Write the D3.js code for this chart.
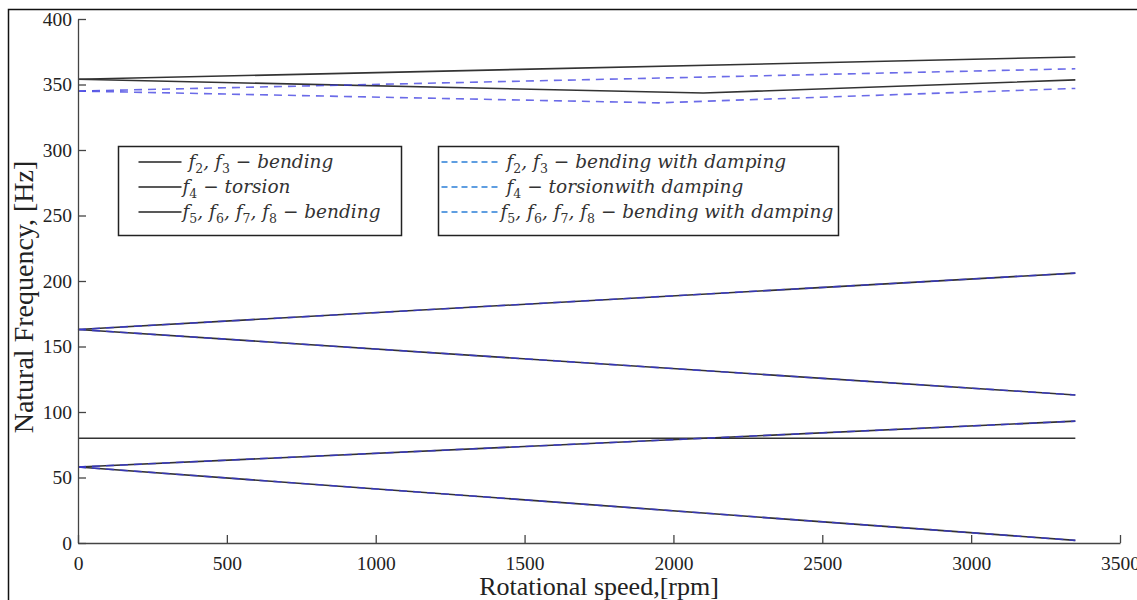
<!DOCTYPE html>
<meta charset="utf-8">
<style>
  body { margin: 0; background: #fff; }
  text { font-family: "Liberation Serif", serif; fill: #222; }
  .tick text { font-family: "Liberation Serif", "Times New Roman", serif !important; }
  .legend text { font-family: "DejaVu Serif", serif; font-style: italic; font-size: 18.5px; fill: #333; }
</style>
<svg width="1137" height="600"></svg>
<script src="https://cdn.jsdelivr.net/npm/d3@7"></script>
<script>
  // speed points (rpm) and frequencies (Hz)
  var rpmEnds = [0, 3350];
  var bendLowUp = [58, 93];
  var bendLowDown = [58, 2];
  var torsion = [80, 80];
  var bendMidUp = [163, 206];
  var bendMidDown = [163, 113];
  var bendTopUp = [354, 371];
  var rpmKinkSolid = [0, 2100, 3350];
  var bendTopDown = [354, 343.5, 353.5];
  var dampTopUp = [345, 362];
  var rpmKinkDamp = [0, 1950, 3350];
  var dampTopDown = [345, 336, 347];

  var xTicks = [0, 500, 1000, 1500, 2000, 2500, 3000, 3500];
  var yTicks = [0, 50, 100, 150, 200, 250, 300, 350, 400];

  var svg = d3.select("svg");

  // outer frame
  svg.append("rect")
    .attr("x", 8.5).attr("y", 9.5)
    .attr("width", 1140).attr("height", 600)
    .attr("fill", "none").attr("stroke", "#111").attr("stroke-width", 1.5);

  var x = d3.scaleLinear().domain([0, 3500]).range([78, 1120]);
  var y = d3.scaleLinear().domain([0, 400]).range([543, 19]);

  var line = d3.line()
    .x(function(d) { return x(d[0]); })
    .y(function(d) { return y(d[1]); });

  function pts(xs, ys) {
    return xs.map(function(v, i) { return [v, ys[i]]; });
  }

  var solid = [
    pts(rpmEnds, bendLowUp), pts(rpmEnds, bendLowDown), pts(rpmEnds, torsion),
    pts(rpmEnds, bendMidUp), pts(rpmEnds, bendMidDown),
    pts(rpmEnds, bendTopUp), pts(rpmKinkSolid, bendTopDown)
  ];
  var dashed = [
    pts(rpmEnds, bendLowUp), pts(rpmEnds, bendLowDown),
    pts(rpmEnds, bendMidUp), pts(rpmEnds, bendMidDown),
    pts(rpmEnds, dampTopUp), pts(rpmKinkDamp, dampTopDown)
  ];

  svg.append("g").selectAll("path")
    .data(solid).enter().append("path")
    .attr("d", line)
    .attr("fill", "none").attr("stroke", "#333").attr("stroke-width", 1.6);

  svg.append("g").selectAll("path")
    .data(dashed).enter().append("path")
    .attr("d", line)
    .attr("fill", "none").attr("stroke", "#3a3ae0").attr("stroke-opacity", 0.75)
    .attr("stroke-width", 1.6).attr("stroke-dasharray", "8,6");

  // axes (ticks pointing inward)
  var fmt = d3.format("d");
  var xAxis = svg.append("g")
    .attr("transform", "translate(0,543)")
    .call(d3.axisBottom(x).tickValues(xTicks).tickFormat(fmt)
      .tickSizeInner(-8).tickSizeOuter(0).tickPadding(13));
  var yAxis = svg.append("g")
    .attr("transform", "translate(78,0)")
    .call(d3.axisLeft(y).tickValues(yTicks).tickFormat(fmt)
      .tickSizeInner(-8).tickSizeOuter(0).tickPadding(6));

  [xAxis, yAxis].forEach(function(a) {
    a.attr("font-family", "Liberation Serif").attr("font-size", 19.5);
    a.select(".domain").attr("stroke", "#444").attr("stroke-width", 1.3);
    a.selectAll(".tick line").attr("stroke", "#444").attr("stroke-width", 1.3);
    a.selectAll(".tick text").attr("fill", "#222");
  });

  svg.append("text")
    .attr("x", 599).attr("y", 595)
    .attr("text-anchor", "middle")
    .style("font-size", "26px")
    .text("Rotational speed,[rpm]");

  svg.append("text")
    .attr("transform", "translate(33,297) rotate(-90)")
    .attr("text-anchor", "middle")
    .style("font-size", "28px")
    .text("Natural Frequency, [Hz]");

  // legends
  var legLeft = [
    { subs: ["2", "3"], rest: " \u2212 bending" },
    { subs: ["4"], rest: " \u2212 torsion" },
    { subs: ["5", "6", "7", "8"], rest: " \u2212 bending" }
  ];
  var legRight = [
    { subs: ["2", "3"], rest: " \u2212 bending with damping" },
    { subs: ["4"], rest: " \u2212 torsionwith damping" },
    { subs: ["5", "6", "7", "8"], rest: " \u2212 bending with damping" }
  ];

  function legend(bx, bw, items, dashedLine, textX) {
    var g = svg.append("g").attr("class", "legend");
    g.append("rect")
      .attr("x", bx).attr("y", 146.5).attr("width", bw).attr("height", 89)
      .attr("fill", "#fff").attr("stroke", "#222").attr("stroke-width", 1.5);
    items.forEach(function(it, i) {
      var ly = 162 + i * 25;
      g.append("line")
        .attr("x1", bx + (dashedLine ? 3 : 20)).attr("x2", bx + (dashedLine ? 60 : 63))
        .attr("y1", ly).attr("y2", ly)
        .attr("stroke", dashedLine ? "#2a7fd8" : "#222")
        .attr("stroke-width", 1.4)
        .attr("stroke-dasharray", dashedLine ? "6,4" : null);
      var t = g.append("text").attr("x", bx + textX[i]).attr("y", ly + 6);
      var shift = 0;
      it.subs.forEach(function(s, j) {
        var f = t.append("tspan").text(j > 0 ? ", f" : "f");
        if (shift) { f.attr("dy", -shift); shift = 0; }
        t.append("tspan").attr("dy", 5).style("font-size", "12.5px").style("font-style", "normal").text(s);
        shift = 5;
      });
      t.append("tspan").attr("dy", -shift).text(it.rest);
    });
  }
  legend(118.5, 283, legLeft, false, [70, 64, 64]);
  legend(438.5, 400, legRight, true, [68, 68, 62]);
</script>
